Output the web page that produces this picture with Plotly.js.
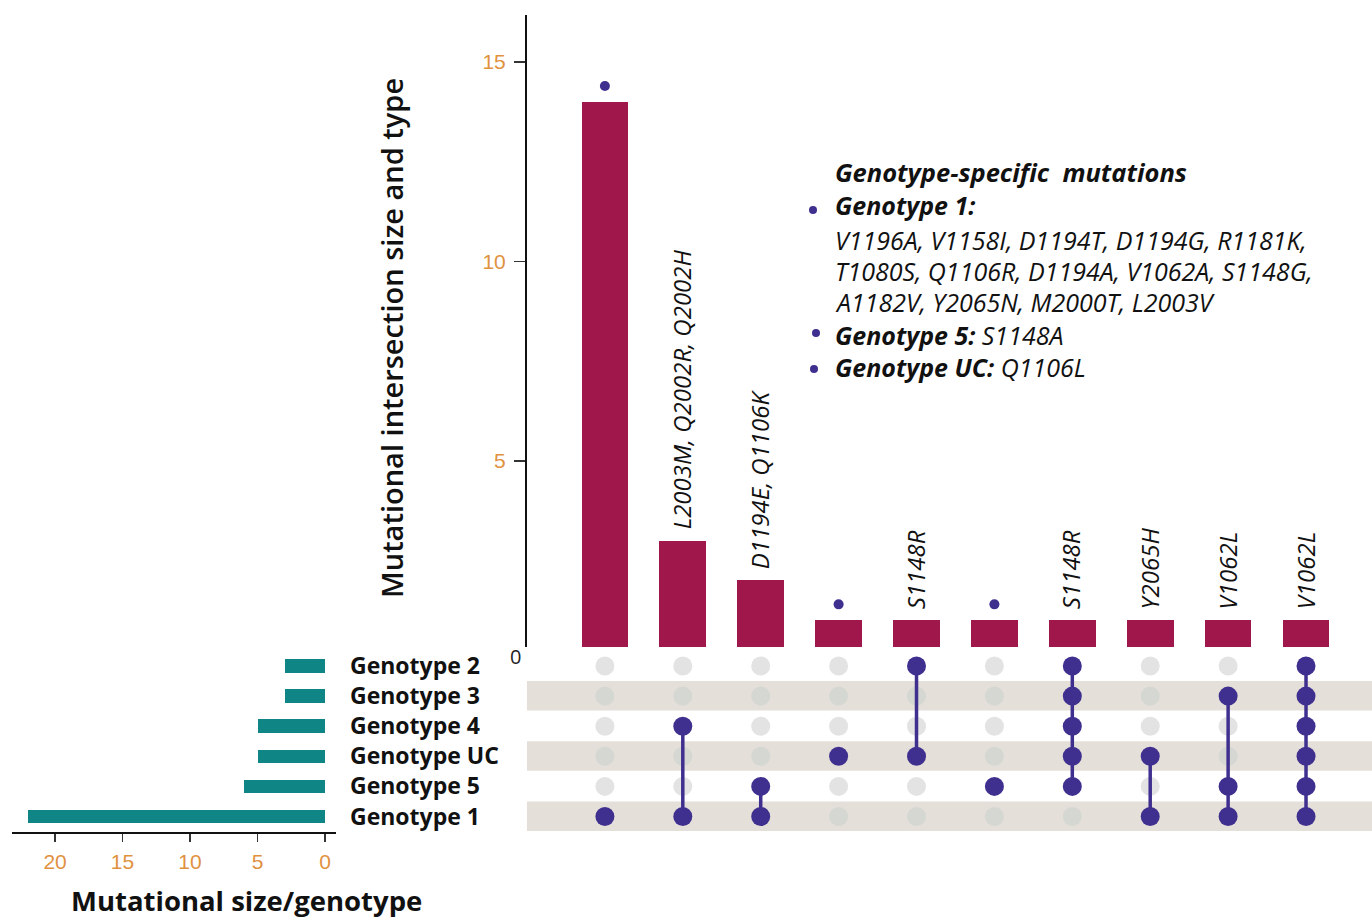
<!DOCTYPE html>
<html><head><meta charset="utf-8">
<script src="https://cdn.plot.ly/plotly-3.0.1.min.js"></script>
<style>html,body{margin:0;padding:0;background:#fff;} #chart{width:1372px;height:919px;}</style>
</head><body><div id="chart"></div>
<script>
// ---------------- DATA ----------------
// genotype rows, bottom to top
const genotypes = ['Genotype 1', 'Genotype 5', 'Genotype UC', 'Genotype 4', 'Genotype 3', 'Genotype 2'];
const genotypeSizes = [22, 6, 5, 5, 3, 3];

// intersections, left to right
const intersectionSizes = [14, 3, 2, 1, 1, 1, 1, 1, 1, 1];
const intersectionLabels = ['', 'L2003M, Q2002R, Q2002H', 'D1194E, Q1106K', '', 'S1148R', '', 'S1148R', 'Y2065H', 'V1062L', 'V1062L'];
const genotypeSpecific = [true, false, false, true, false, true, false, false, false, false];
const intersectionMembers = [
  ['Genotype 1'],
  ['Genotype 4', 'Genotype 1'],
  ['Genotype 5', 'Genotype 1'],
  ['Genotype UC'],
  ['Genotype 2', 'Genotype UC'],
  ['Genotype 5'],
  ['Genotype 2', 'Genotype 3', 'Genotype 4', 'Genotype UC', 'Genotype 5'],
  ['Genotype UC', 'Genotype 1'],
  ['Genotype 3', 'Genotype 5', 'Genotype 1'],
  ['Genotype 2', 'Genotype 3', 'Genotype 4', 'Genotype UC', 'Genotype 5', 'Genotype 1']
];
const shadedRows = ['Genotype 1', 'Genotype UC', 'Genotype 3'];

const noteTitle = 'Genotype-specific  mutations';
const noteG1Head = 'Genotype 1:';
const noteG1Lines = ['V1196A, V1158I, D1194T, D1194G, R1181K,', 'T1080S, Q1106R, D1194A, V1062A, S1148G,', 'A1182V, Y2065N, M2000T, L2003V'];
const noteG5 = ['Genotype 5:', 'S1148A'];
const noteUC = ['Genotype UC:', 'Q1106L'];

const yTitle = 'Mutational intersection size and type';
const xTitle = 'Mutational size/genotype';
const topTicks = [5, 10, 15];
const leftTicks = [0, 5, 10, 15, 20];

// ---------------- STYLE ----------------
const W = 1372, H = 919;
const px = v => v / W, py = v => 1 - v / H;
const CRIMSON = '#a0184b', TEAL = '#0f8585', PURPLE = '#3f2f8f';
const BAND = '#e4dfd9', GRAY_W = '#e3e3e3', GRAY_B = '#d5d7d2';
const TICKCOL = '#e0913f';
const FONT = 'Open Sans, Noto Sans, sans-serif';
const DOT_OFFSET = 0.4;

const cols = intersectionSizes.map((_, i) => i);
const rowOf = g => genotypes.indexOf(g);

const traces = [];
// top bars
traces.push({type: 'bar', x: cols, y: intersectionSizes, width: 0.6, xaxis: 'x', yaxis: 'y',
  marker: {color: CRIMSON, line: {width: 0}}, hoverinfo: 'x+y', showlegend: false});
// genotype-specific markers above bars
const spX = cols.filter(i => genotypeSpecific[i]);
traces.push({type: 'scatter', mode: 'markers', x: spX, y: spX.map(i => intersectionSizes[i] + DOT_OFFSET),
  xaxis: 'x', yaxis: 'y', marker: {color: PURPLE, size: 10}, showlegend: false, hoverinfo: 'skip'});
// gray matrix dots
const gx = [], gy = [], gc = [];
cols.forEach(i => genotypes.forEach((g, r) => {
  if (!intersectionMembers[i].includes(g)) { gx.push(i); gy.push(r); gc.push(shadedRows.includes(g) ? GRAY_B : GRAY_W); }
}));
traces.push({type: 'scatter', mode: 'markers', x: gx, y: gy, xaxis: 'x', yaxis: 'y2',
  marker: {color: gc, size: 19}, showlegend: false, hoverinfo: 'skip'});
// connecting lines
const lx = [], ly = [];
cols.forEach(i => {
  const rs = intersectionMembers[i].map(rowOf);
  if (rs.length > 1) { lx.push(i, i, null); ly.push(Math.min(...rs), Math.max(...rs), null); }
});
traces.push({type: 'scatter', mode: 'lines', x: lx, y: ly, xaxis: 'x', yaxis: 'y2',
  line: {color: PURPLE, width: 3.5}, showlegend: false, hoverinfo: 'skip'});
// member dots
const mx = [], my = [];
cols.forEach(i => intersectionMembers[i].forEach(g => { mx.push(i); my.push(rowOf(g)); }));
traces.push({type: 'scatter', mode: 'markers', x: mx, y: my, xaxis: 'x', yaxis: 'y2',
  marker: {color: PURPLE, size: 19}, showlegend: false, hoverinfo: 'skip'});
// left bars
traces.push({type: 'bar', orientation: 'h', x: genotypeSizes, y: genotypes.map((_, r) => r), width: 0.45,
  xaxis: 'x3', yaxis: 'y3', marker: {color: TEAL, line: {width: 0}}, showlegend: false});

const shapes = shadedRows.map(g => ({type: 'rect', xref: 'x domain', x0: 0, x1: 1, yref: 'y2',
  y0: rowOf(g) - 0.48, y1: rowOf(g) + 0.5, fillcolor: BAND, line: {width: 0}, layer: 'below'}));
// bullets
[[813, 210], [816, 333], [814, 369]].forEach(([cx, cy]) => shapes.push({type: 'circle', xref: 'paper', yref: 'paper',
  x0: px(cx - 4), x1: px(cx + 4), y0: py(cy + 4), y1: py(cy - 4), fillcolor: PURPLE, line: {width: 0}}));

const annotations = [];
cols.forEach(i => {
  if (intersectionLabels[i]) annotations.push({xref: 'x', yref: 'y', x: i, y: intersectionSizes[i],
    text: '<i>' + intersectionLabels[i] + '</i>', textangle: -90, showarrow: false, yanchor: 'bottom', xanchor: 'center',
    yshift: 9, xshift: -1, font: {family: FONT, size: 24, color: '#111'}});
});
const noteFont = {family: FONT, size: 25, color: '#111'};
const noteAnn = (text, y, extra) => Object.assign({xref: 'paper', yref: 'paper', x: px(833), y: py(y), xanchor: 'left',
  yanchor: 'middle', showarrow: false, text: text, font: noteFont}, extra || {});
annotations.push(noteAnn('<b><i>' + noteTitle + '</i></b>', 172, {font: {family: FONT, size: 25.5, color: '#111'}}));
annotations.push(noteAnn('<b><i>' + noteG1Head + '</i></b>', 205));
noteG1Lines.forEach((t, k) => annotations.push(noteAnn('<i>' + t + '</i>', 240 + k * 31)));
annotations.push(noteAnn('<b><i>' + noteG5[0] + '</i></b><i> ' + noteG5[1] + '</i>', 335));
annotations.push(noteAnn('<b><i>' + noteUC[0] + '</i></b><i> ' + noteUC[1] + '</i>', 367));
annotations.push({xref: 'paper', yref: 'paper', x: px(392), y: py(338), xanchor: 'center', yanchor: 'middle',
  textangle: -90, showarrow: false, text: yTitle, font: {family: FONT, size: 29, weight: 600, color: '#111'}});
annotations.push({xref: 'paper', yref: 'paper', x: px(246), y: py(900), xanchor: 'center', yanchor: 'middle',
  showarrow: false, text: '<b>' + xTitle + '</b>', font: {family: FONT, size: 27.5, color: '#111'}});
annotations.push({xref: 'paper', yref: 'paper', x: px(515), y: py(656), xanchor: 'center', yanchor: 'middle',
  showarrow: false, text: '0', font: {family: FONT, size: 20, color: '#222'}});

const layout = {
  width: W, height: H, margin: {l: 0, r: 0, t: 0, b: 0}, paper_bgcolor: '#fff', plot_bgcolor: 'rgba(0,0,0,0)',
  showlegend: false, bargap: 0,
  xaxis: {domain: [px(527), 1], range: [-1, 9.847], visible: false, anchor: 'y', fixedrange: true},
  yaxis: {domain: [py(647), py(15)], range: [0.331, 16.18], anchor: 'x', showline: true, linecolor: '#111', linewidth: 2,
    ticks: 'outside', ticklen: 11, tickwidth: 1.5, tickcolor: '#333', tickvals: topTicks, showgrid: false, zeroline: false,
    tickfont: {family: 'Liberation Sans, Arial, sans-serif', size: 21, color: TICKCOL}, ticklabelstandoff: 4},
  yaxis2: {domain: [py(835), py(648)], range: [-0.615, 5.598], anchor: 'x', visible: false},
  xaxis3: {domain: [px(12), px(336)], range: [23.19, -0.815], anchor: 'y3', showline: true, linecolor: '#111', linewidth: 2,
    ticks: 'outside', ticklen: 8, tickwidth: 1.5, tickcolor: '#333', tickvals: leftTicks, showgrid: false, zeroline: false,
    tickfont: {family: 'Liberation Sans, Arial, sans-serif', size: 21, color: TICKCOL}, ticklabelstandoff: 2},
  yaxis3: {domain: [py(832), py(648)], range: [-0.515, 5.598], anchor: 'x3', side: 'right', showline: false, ticks: '',
    tickvals: genotypes.map((_, r) => r), ticktext: genotypes, showgrid: false, zeroline: false,
    tickfont: {family: FONT, size: 23, weight: 700, color: '#111'}, ticklabelstandoff: 13},
  shapes: shapes, annotations: annotations
};
Plotly.newPlot('chart', traces, layout, {displayModeBar: false, staticPlot: true});
</script></body></html>
